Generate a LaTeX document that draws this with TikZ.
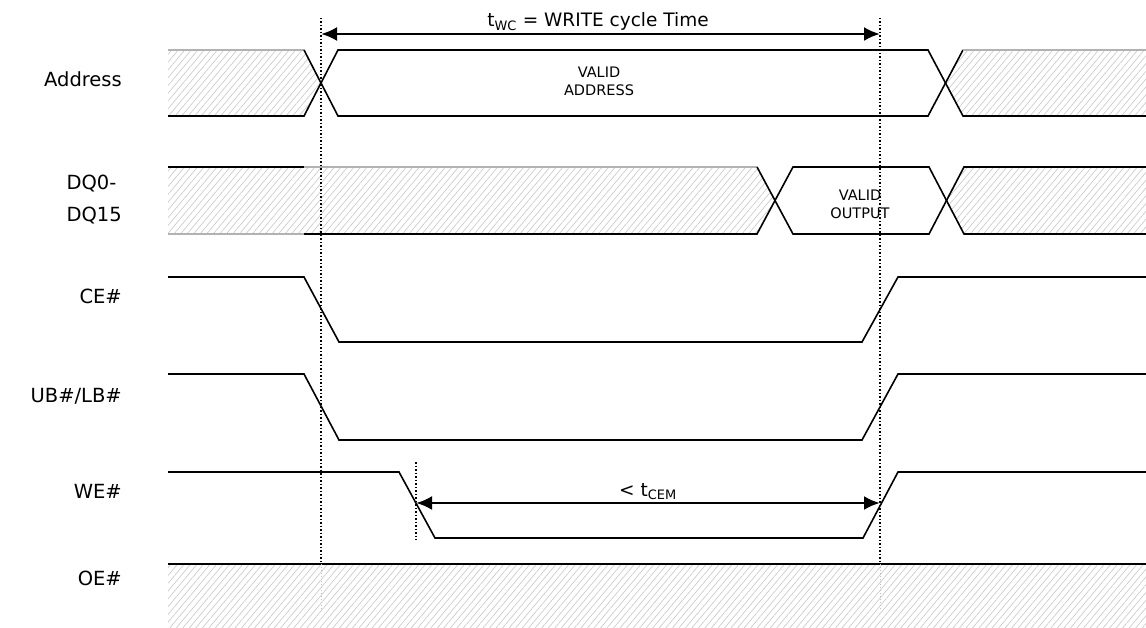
\documentclass[tikz,border=0pt]{standalone}
\usepackage{fontspec}
\setmainfont{DejaVu Sans}
\usetikzlibrary{arrows.meta,patterns.meta}
\begin{document}
\begin{tikzpicture}[x=1pt,y=-1pt,
  sig/.style={line width=1.6pt,line join=miter},
  hatch/.style={pattern={Lines[angle=50,distance=5pt,line width=0.6pt]},pattern color=gray!45},
  hedge/.style={line width=1.3pt,draw=gray!60},
  guide/.style={line width=1.5pt,dotted},
  guidefaint/.style={line width=0.9pt,dotted,draw=gray!50},
  dim/.style={line width=2.6pt,{Latex[length=16pt,width=14pt]}-{Latex[length=16pt,width=14pt]}},
  lbl/.style={anchor=base east,align=left,font=\fontsize{19.5}{32}\selectfont,inner sep=0pt},
  inner/.style={align=center,font=\fontsize{14.5}{18}\selectfont,inner sep=0pt},
  dimtxt/.style={anchor=base,font=\fontsize{18.5}{22}\selectfont,inner sep=0pt}]
\useasboundingbox (0,0) rectangle (1146,628);

% ---------- hatched areas ----------
\fill[hatch] (168,50) -- (304,50) -- (321,83) -- (304,116) -- (168,116) -- cycle;
\fill[hatch] (946,83) -- (963,50) -- (1146,50) -- (1146,116) -- (963,116) -- cycle;
\fill[hatch] (168,167) -- (757,167) -- (775,200.5) -- (757,234) -- (168,234) -- cycle;
\fill[hatch] (946.5,200.5) -- (964,167) -- (1146,167) -- (1146,234) -- (964,234) -- cycle;
\fill[hatch] (168,564) rectangle (1146,627);

% ---------- Address ----------
\draw[hedge] (168,50) -- (304,50);
\draw[sig] (168,116) -- (304,116) -- (338,50) -- (928,50) -- (963,116) -- (1146,116);
\draw[sig] (304,50) -- (338,116) -- (928,116) -- (963,50);
\draw[hedge] (963,50) -- (1146,50);

% ---------- DQ ----------
\draw[sig] (168,167) -- (304,167);
\draw[hedge] (304,167) -- (757,167);
\draw[hedge] (168,234) -- (304,234);
\draw[sig] (304,234) -- (757,234) -- (793,167) -- (929,167) -- (964,234) -- (1146,234);
\draw[sig] (757,167) -- (793,234) -- (929,234) -- (964,167) -- (1146,167);

% ---------- CE#, UB#/LB#, WE#, OE# ----------
\draw[sig] (168,277) -- (304,277) -- (339,342) -- (862,342) -- (898,277) -- (1146,277);
\draw[sig] (168,374) -- (304,374) -- (339,440) -- (862,440) -- (898,374) -- (1146,374);
\draw[sig] (168,472) -- (399,472) -- (435,538) -- (863,538) -- (898,472) -- (1146,472);
\draw[sig] (168,564) -- (1146,564);

% ---------- guide lines ----------
\coordinate (g1t) at (321,18);
\coordinate (g1b) at (321,564);
\coordinate (g1f) at (321,610);
\coordinate (g2t) at (880,18);
\coordinate (g2b) at (880,564);
\coordinate (g2f) at (880,610);
\coordinate (g3t) at (416,462);
\coordinate (g3b) at (416,540);
\draw[guide] (g1t) -- (g1b);
\draw[guide] (g2t) -- (g2b);
\draw[guidefaint] (g1b) -- (g1f);
\draw[guidefaint] (g2b) -- (g2f);
\draw[guide] (g3t) -- (g3b);

% ---------- dimension arrows ----------
\coordinate (a1) at (321,34);
\coordinate (a2) at (880,34);
\coordinate (b1) at (416,503);
\coordinate (b2) at (880,503);
\draw[dim] (a1) -- (a2);
\draw[dim] (b1) -- (b2);
\node[dimtxt] (twc) at (598,27) {t\textsubscript{WC} = WRITE cycle Time};
\node[dimtxt] (tcem) at (648,496) {< t\textsubscript{CEM}};

% ---------- inner texts ----------
\node[inner] (va) at (599,81) {VALID\\ADDRESS};
\node[inner] (vo) at (860,204) {VALID\\OUTPUT};

% ---------- signal labels ----------
\node[lbl] (lAddr) at (122,87) {Address};
\node[lbl] (lDQ) at (122,222) {DQ0-\\DQ15};
\node[lbl] (lCE) at (122,304) {CE\#};
\node[lbl] (lUB) at (122,402) {UB\#/LB\#};
\node[lbl] (lWE) at (122,498) {WE\#};
\node[lbl] (lOE) at (122,585) {OE\#};
\end{tikzpicture}
\end{document}
